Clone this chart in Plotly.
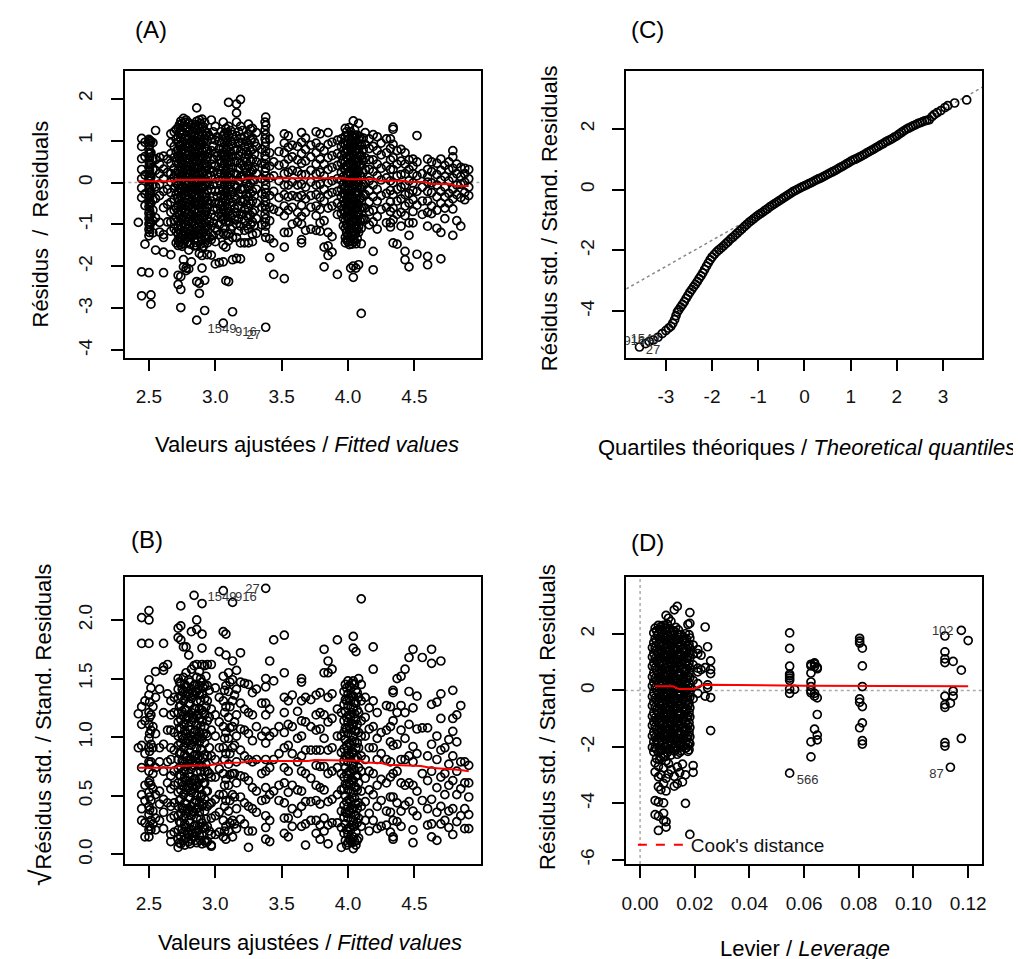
import plotly.graph_objects as go

# ---------------- DATA ----------------
# (A) residuals vs fitted values: (fitted value, [residuals at that fitted value])
a_columns = [
 (2.42, [-0.95]),
 (2.445, [1.05, 0.86, 0.57, 0.31, 0.09, -0.13, -0.36, -2.13, -2.7]),
 (2.47, [0.96, 0.62, 0.18, -0.27, -0.55, -1.47]),
 (2.50, [1.03, 0.94, 0.79, 0.68, 0.51, 0.37, 0.24, 0.09, -0.05, -0.17, -0.31, -0.46, -0.58, -0.73, -0.86, -0.99, -1.12, -1.27, -2.15]),
 (2.505, [1.0, 0.88, 0.71, 0.59, 0.45, 0.29, 0.16, 0.03, -0.11, -0.25, -0.37, -0.52, -0.67, -0.79, -0.94, -1.06, -1.19]),
 (2.515, [0.98, 0.71, 0.44, 0.13, -0.21, -0.49, -0.77, -0.96, -2.68, -2.9]),
 (2.53, [0.95, 0.58, 0.31, -0.06, -0.41, -0.66, -0.91, -1.2]),
 (2.55, [1.24, 0.55, 0.29, -0.1, -0.38, -0.84, -1.61]),
 (2.58, [0.6, 0.44, 0.21, -0.04, -0.31, -0.95, -1.18]),
 (2.61, [0.63, 0.32, 0.09, -0.21, -0.6, -1.24, -1.31, -1.66, -2.15]),
 (2.64, [0.56, 0.24, -0.16, -0.52, -0.94]),
 (2.665, [1.16, 0.95, 0.69, 0.46, 0.21, 0.01, -0.24, -0.47, -0.71, -0.94, -1.16, -1.72]),
 (2.69, [1.21, 0.86, 0.6, 0.34, 0.11, -0.13, -0.39, -0.66, -0.9, -1.1]),
 (2.705, [1.26, 1.03, 0.74, 0.5, 0.21, -0.02, -0.28, -0.61, -0.83, -1.17, -1.44]),
 (2.72, [1.31, 1.09, 0.96, 0.79, 0.63, 0.44, 0.29, 0.11, -0.06, -0.21, -0.37, -0.56, -0.71, -0.91, -1.04, -1.23, -1.37, -1.5, -2.21, -2.43]),
 (2.73, [1.38, 1.17, 0.88, 0.57, 0.21, -0.13, -0.44, -0.79, -1.13, -1.43]),
 (2.74, [1.46, 1.24, 1.06, 0.87, 0.71, 0.51, 0.36, 0.17, 0.03, -0.16, -0.31, -0.51, -0.67, -0.86, -1.01, -1.21, -1.34, -1.48, -2.24, -2.55, -2.98]),
 (2.75, [1.41, 1.14, 0.78, 0.47, 0.13, -0.21, -0.55, -0.89, -1.25, -1.52]),
 (2.76, [1.53, 1.34, 1.16, 0.96, 0.79, 0.59, 0.43, 0.24, 0.09, -0.11, -0.27, -0.46, -0.61, -0.81, -0.97, -1.16, -1.29, -1.46, -1.84, -2.01]),
 (2.77, [1.44, 1.04, 0.69, 0.33, -0.02, -0.37, -0.71, -1.07, -1.39]),
 (2.78, [1.49, 1.31, 1.11, 0.94, 0.74, 0.58, 0.39, 0.23, 0.04, -0.13, -0.29, -0.48, -0.64, -0.83, -0.99, -1.19, -1.33, -2.04, -2.1]),
 (2.79, [1.33, 1.02, 0.66, 0.31, -0.06, -0.4, -0.75, -1.1, -1.42]),
 (2.80, [1.42, 1.21, 1.04, 0.84, 0.68, 0.47, 0.31, 0.12, -0.03, -0.23, -0.39, -0.58, -0.74, -0.93, -1.09, -1.29, -1.61, -2.06]),
 (2.81, [1.27, 0.92, 0.55, 0.2, -0.17, -0.52, -0.87, -1.22, -1.47]),
 (2.82, [1.36, 1.14, 0.98, 0.77, 0.61, 0.41, 0.26, 0.06, -0.11, -0.27, -0.46, -0.62, -0.81, -0.96, -1.16, -1.3, -1.89]),
 (2.83, [1.22, 0.86, 0.49, 0.13, -0.21, -0.57, -0.92, -1.26]),
 (2.84, [1.29, 1.13, 0.91, 0.74, 0.54, 0.38, 0.19, 0.03, -0.16, -0.32, -0.51, -0.67, -0.86, -1.02, -1.21, -1.36, -1.51]),
 (2.85, [1.38, 1.0, 0.62, 0.24, -0.1, -0.46, -0.82, -1.17, -1.43]),
 (2.86, [1.78, 1.46, 1.24, 1.06, 0.85, 0.69, 0.49, 0.33, 0.14, -0.03, -0.19, -0.38, -0.54, -0.73, -0.89, -1.09, -1.24, -1.51, -2.36, -3.28]),
 (2.87, [1.35, 0.97, 0.6, 0.25, -0.11, -0.45, -0.81, -1.14, -1.39]),
 (2.88, [1.49, 1.29, 1.11, 0.89, 0.73, 0.53, 0.37, 0.17, 0.01, -0.18, -0.34, -0.53, -0.69, -0.89, -1.04, -1.23, -1.69, -2.4, -2.64]),
 (2.89, [1.41, 1.03, 0.64, 0.29, -0.07, -0.42, -0.77, -1.12, -1.47]),
 (2.90, [1.51, 1.31, 1.13, 0.92, 0.76, 0.56, 0.4, 0.2, 0.05, -0.15, -0.3, -0.5, -0.65, -0.85, -1.01, -1.21, -1.37, -1.56, -1.74, -2.04]),
 (2.91, [1.33, 0.97, 0.6, 0.24, -0.11, -0.46, -0.82, -1.17, -1.52]),
 (2.92, [1.43, 1.21, 1.03, 0.82, 0.65, 0.45, 0.29, 0.09, -0.07, -0.27, -0.42, -0.61, -0.77, -0.96, -1.11, -1.31, -1.44, -2.33, -3.05]),
 (2.93, [1.12, 0.74, 0.36, 0.01, -0.35, -0.71, -1.06, -1.35]),
 (2.94, [1.19, 1.01, 0.79, 0.61, 0.39, 0.21, -0.01, -0.19, -0.43, -0.61, -0.86, -1.04, -1.26, -1.44, -1.72]),
 (2.955, [1.11, 0.69, 0.31, -0.06, -0.52, -0.94, -1.31]),
 (2.97, [1.49, 1.04, 0.76, 0.44, 0.16, -0.16, -0.44, -0.76, -1.04, -1.36, -1.73]),
 (2.985, [1.21, 0.86, 0.56, 0.26, -0.04, -0.34, -0.66, -0.96, -1.26]),
 (3.00, [1.34, 1.01, 0.71, 0.41, 0.09, -0.21, -0.49, -0.81, -1.09, -1.41, -1.94]),
 (3.015, [1.09, 0.63, 0.21, -0.34, -0.62, -1.15]),
 (3.03, [0.99, 0.81, 0.54, 0.31, 0.04, -0.19, -0.49, -0.74, -1.01, -1.24, -1.91]),
 (3.045, [1.21, 0.95, 0.69, 0.46, 0.21, -0.04, -0.29, -0.54, -0.81]),
 (3.06, [1.44, 1.11, 0.84, 0.61, 0.34, 0.11, -0.16, -0.39, -0.66, -0.89, -1.21, -1.49, -1.89, -3.35]),
 (3.07, [1.17, 0.94, 0.71, 0.46, 0.22, -0.04, -0.31, -0.57, -0.82, -1.07]),
 (3.08, [1.29, 1.06, 0.79, 0.56, 0.29, 0.06, -0.21, -0.44, -0.71, -0.94, -1.26, -1.54, -2.34]),
 (3.09, [1.19, 0.95, 0.67, 0.44, 0.18, -0.08, -0.33, -0.6, -0.83]),
 (3.10, [1.91, 1.34, 1.11, 0.84, 0.61, 0.34, 0.11, -0.16, -0.41, -0.69, -0.94, -1.23, -1.39, -2.36]),
 (3.115, [1.24, 0.98, 0.73, 0.49, 0.24, -0.03, -0.29, -0.55, -0.81, -1.11]),
 (3.13, [1.14, 0.91, 0.61, 0.36, 0.07, -0.21, -0.47, -0.76, -1.04, -1.31, -1.84, -3.08]),
 (3.145, [1.03, 0.76, 0.49, 0.22, -0.06, -0.34, -0.62, -0.89]),
 (3.16, [1.87, 1.66, 1.44, 1.11, 0.79, 0.51, 0.19, -0.11, -0.39, -0.71, -0.99, -1.31, -1.81]),
 (3.175, [1.21, 0.94, 0.64, 0.34, 0.04, -0.26, -0.56, -0.86, -1.16]),
 (3.19, [1.98, 1.34, 1.06, 0.74, 0.46, 0.14, -0.16, -0.44, -0.76, -1.04, -1.44, -1.82]),
 (3.205, [1.24, 0.96, 0.69, 0.41, 0.14, -0.16, -0.46, -0.76]),
 (3.22, [1.09, 0.86, 0.59, 0.36, 0.09, -0.14, -0.41, -0.64, -0.91, -1.14, -1.44]),
 (3.235, [0.98, 0.74, 0.49, 0.24, -0.02, -0.27, -0.52, -0.79, -1.03]),
 (3.25, [1.39, 1.16, 0.89, 0.66, 0.39, 0.16, -0.11, -0.34, -0.61, -0.84, -1.11, -1.44]),
 (3.265, [1.27, 1.02, 0.76, 0.51, 0.26, -0.01, -0.26, -0.51, -0.78, -1.01]),
 (3.28, [1.29, 1.06, 0.79, 0.56, 0.29, 0.06, -0.21, -0.44, -0.71, -0.94, -1.24, -1.41]),
 (3.295, [0.96, 0.68, 0.36, 0.06, -0.31, -0.66, -1.02]),
 (3.31, [1.19, 0.86, 0.49, 0.21, -0.16, -0.49, -0.86, -1.21]),
 (3.35, [0.79, 0.46, 0.09, -0.26, -0.59, -1.01]),
 (3.375, [1.44, 1.25, 1.04, 0.86, 0.64, 0.44, 0.26, 0.05, -0.15, -0.35, -0.55, -0.76, -0.95, -1.18]),
 (3.38, [1.56, 1.36, 1.14, 0.96, 0.74, 0.56, 0.34, 0.16, -0.06, -0.24, -0.46, -0.64, -0.86, -1.04, -1.31, -3.45]),
 (3.41, [1.04, 0.71, 0.39, 0.11, -0.31, -0.59, -0.91, -1.34, -1.79]),
 (3.44, [0.49, 0.16, -0.21, -0.64, -1.44, -2.19]),
 (3.48, [0.74, 0.41, 0.04, -0.36, -0.69]),
 (3.52, [1.16, 0.94, 0.71, 0.44, 0.21, -0.06, -0.29, -0.56, -0.79, -1.19, -1.54, -2.29]),
 (3.55, [1.11, 0.84, 0.56, 0.24, -0.06, -0.34, -0.66, -1.19]),
 (3.58, [0.89, 0.61, 0.29, 0.01, -0.31, -0.59, -0.99]),
 (3.62, [0.86, 0.54, 0.26, -0.06, -0.34, -0.71, -0.94]),
 (3.65, [1.19, 0.96, 0.69, 0.46, 0.19, -0.04, -0.31, -0.54, -0.81, -0.99, -1.36, -1.44]),
 (3.68, [1.06, 0.79, 0.51, 0.19, -0.11, -0.39, -0.71, -1.14]),
 (3.72, [0.89, 0.61, 0.29, 0.01, -0.31, -0.59, -1.11]),
 (3.76, [1.21, 0.94, 0.71, 0.44, 0.21, -0.06, -0.29, -0.56, -0.79, -1.14]),
 (3.79, [1.16, 0.84, 0.56, 0.24, -0.04, -0.36, -0.64, -0.96, -1.16]),
 (3.82, [0.76, 0.44, 0.16, -0.16, -0.44, -0.91, -1.54, -2.01]),
 (3.85, [1.19, 0.91, 0.59, 0.31, -0.01, -0.29, -0.61, -1.19, -1.51, -1.74]),
 (3.88, [0.96, 0.64, 0.36, 0.04, -0.24, -0.56, -1.29, -1.66]),
 (3.92, [1.01, 0.69, 0.41, 0.09, -0.21, -0.49, -0.76, -2.19]),
 (3.95, [1.04, 0.86, 0.64, 0.46, 0.24, 0.06, -0.16, -0.34, -0.56, -0.74]),
 (3.965, [0.94, 0.76, 0.53, 0.35, 0.14, -0.04, -0.26, -0.44, -0.66, -0.85, -1.03]),
 (3.98, [1.29, 1.11, 0.89, 0.71, 0.49, 0.31, 0.09, -0.11, -0.29, -0.51, -0.69, -0.91, -1.09, -1.31, -1.44]),
 (3.99, [1.21, 0.99, 0.81, 0.6, 0.41, 0.2, 0.01, -0.21, -0.39, -0.61, -0.79, -1.01, -1.19, -1.37]),
 (4.00, [1.11, 0.91, 0.75, 0.55, 0.39, 0.19, 0.03, -0.17, -0.33, -0.53, -0.69, -0.89, -1.05, -1.25, -1.41]),
 (4.01, [1.31, 1.04, 0.85, 0.64, 0.46, 0.25, 0.07, -0.12, -0.3, -0.48, -0.66, -0.84, -1.1, -1.3, -1.48]),
 (4.02, [1.21, 0.99, 0.81, 0.59, 0.41, 0.19, 0.01, -0.21, -0.39, -0.61, -0.79, -1.01, -1.19, -1.41, -2.04]),
 (4.03, [1.12, 0.93, 0.71, 0.52, 0.31, 0.11, -0.08, -0.3, -0.51, -0.7, -0.91, -1.1, -1.28, -1.47]),
 (4.04, [1.47, 1.06, 0.84, 0.66, 0.44, 0.26, 0.04, -0.14, -0.36, -0.54, -0.76, -0.94, -1.16, -1.34, -1.99, -2.26]),
 (4.05, [1.26, 1.13, 0.94, 0.74, 0.56, 0.35, 0.14, -0.05, -0.26, -0.45, -0.64, -0.86, -1.06, -1.25, -1.4]),
 (4.06, [0.99, 0.81, 0.59, 0.41, 0.19, 0.01, -0.21, -0.39, -0.61, -0.79, -1.01, -1.19, -1.46, -2.04]),
 (4.07, [1.13, 0.91, 0.71, 0.49, 0.3, 0.09, -0.1, -0.31, -0.5, -0.71, -0.9, -1.11, -1.34]),
 (4.08, [1.41, 1.04, 0.79, 0.51, 0.27, -0.01, -0.25, -0.53, -0.77, -1.06, -1.19, -1.96]),
 (4.09, [1.09, 0.87, 0.63, 0.39, 0.15, -0.13, -0.38, -0.64, -0.91]),
 (4.10, [0.91, 0.64, 0.41, 0.14, -0.09, -0.36, -0.59, -0.86, -1.09, -1.46, -3.12]),
 (4.115, [1.06, 0.79, 0.52, 0.24, -0.04, -0.31, -0.59, -0.86]),
 (4.13, [1.19, 0.91, 0.59, 0.31, -0.01, -0.29, -0.61, -0.89]),
 (4.16, [1.04, 0.81, 0.54, 0.31, 0.04, -0.19, -0.46, -0.69, -1.01]),
 (4.19, [1.14, 0.86, 0.54, 0.26, -0.06, -0.34, -0.66, -0.94, -1.64, -2.08]),
 (4.22, [1.09, 0.76, 0.44, 0.16, -0.16, -0.44, -0.81, -1.11]),
 (4.25, [0.94, 0.66, 0.34, 0.06, -0.31, -0.64]),
 (4.29, [1.04, 0.71, 0.39, 0.11, -0.26, -0.59, -0.96]),
 (4.32, [1.04, 0.81, 0.54, 0.31, 0.04, -0.19, -0.46, -0.69, -0.96, -1.06]),
 (4.34, [1.32, 1.27, 0.91, 0.59, 0.31, -0.01, -0.29, -0.61, -0.89, -1.44]),
 (4.37, [0.76, 0.44, 0.16, -0.16, -0.44, -0.76, -1.47]),
 (4.40, [0.79, 0.51, 0.19, -0.11, -0.39, -0.71, -1.04]),
 (4.43, [0.71, 0.44, 0.21, -0.06, -0.29, -0.56, -0.79, -1.64, -1.84]),
 (4.46, [0.54, 0.31, 0.04, -0.26, -0.49, -0.96, -1.26, -2.01]),
 (4.49, [0.56, 0.39, 0.21, -0.01, -0.19, -0.41, -0.69, -0.96]),
 (4.52, [1.12, 0.49, 0.16, -0.21, -0.54, -1.71]),
 (4.56, [0.21, -0.11, -0.44, -0.76]),
 (4.60, [0.56, 0.31, 0.14, 0.01, -0.21, -0.44, -0.71, -1.04, -1.76, -1.96]),
 (4.63, [0.49, 0.26, -0.01, -0.24, -0.56, -0.74]),
 (4.67, [0.46, 0.19, -0.06, -0.34, -0.66, -1.09]),
 (4.70, [0.56, 0.29, 0.06, -0.21, -0.49, -1.19, -1.82]),
 (4.73, [0.41, 0.14, -0.11, -0.34, -0.61, -0.86]),
 (4.76, [0.49, 0.31, 0.04, -0.26, -0.49]),
 (4.79, [0.76, 0.61, 0.34, 0.11, -0.16, -0.39, -0.63, -1.26]),
 (4.82, [0.44, 0.21, -0.06, -0.29, -0.91]),
 (4.85, [0.36, 0.14, -0.04, -0.36, -1.04]),
 (4.88, [0.34, 0.21, 0.01, -0.24, -0.41]),
 (4.91, [0.31, 0.09, -0.11, -0.31]),
]
a_smooth_x = [2.42, 2.69, 2.70, 3.20, 3.24, 3.97, 4.00, 4.21, 4.23, 4.42, 4.46, 4.58, 4.62, 4.78, 4.81, 4.91]
a_smooth_y = [0.03, 0.03, 0.06, 0.07, 0.10, 0.10, 0.08, 0.08, 0.04, 0.04, 0.01, 0.01, -0.03, -0.04, -0.08, -0.08]
a_labels = ["1549", "916", "27"]
a_label_x = [3.05, 3.23, 3.29]
a_label_y = [-3.51, -3.58, -3.66]

# (C) normal Q-Q: theoretical quantiles and standardized residuals
c_theoretical = [-3.57, -3.44, -3.36, -3.27, -3.17, -3.08, -3.0, -2.94, -2.89, -2.85, -2.81, -2.78, -2.75,
    -2.72, -2.68, -2.64, -2.6, -2.56, -2.52, -2.48, -2.44, -2.4, -2.36, -2.32, -2.28, -2.24, -2.2, -2.16,
    -2.12, -2.08, -2.04, -2.0, -1.95, -1.9, -1.85, -1.8, -1.75, -1.7, -1.65, -1.6, -1.55, -1.5, -1.45,
    -1.4, -1.35, -1.3, -1.25, -1.2, -1.15, -1.1, -1.05, -1.0, -0.95, -0.9, -0.85, -0.8, -0.75, -0.7,
    -0.65, -0.6, -0.55, -0.5, -0.45, -0.4, -0.35, -0.3, -0.25, -0.2, -0.15, -0.1, -0.05, 0.0, 0.05, 0.1,
    0.15, 0.2, 0.25, 0.3, 0.35, 0.4, 0.45, 0.5, 0.55, 0.6, 0.65, 0.7, 0.75, 0.8, 0.85, 0.9, 0.95, 1.0,
    1.05, 1.1, 1.15, 1.2, 1.25, 1.3, 1.35, 1.4, 1.45, 1.5, 1.55, 1.6, 1.65, 1.7, 1.75, 1.8, 1.85, 1.9,
    1.95, 2.0, 2.05, 2.1, 2.15, 2.2, 2.25, 2.3, 2.35, 2.4, 2.45, 2.5, 2.55, 2.6, 2.65, 2.7, 2.76, 2.81,
    2.87, 2.95, 3.04, 3.1, 3.25, 3.51]
c_std_resid = [-5.18, -5.07, -5.0, -4.95, -4.86, -4.74, -4.64, -4.56, -4.5, -4.4, -4.28, -4.15, -4.03,
    -3.96, -3.87, -3.78, -3.69, -3.58, -3.48, -3.38, -3.29, -3.2, -3.12, -3.03, -2.93, -2.84, -2.74, -2.63,
    -2.52, -2.41, -2.31, -2.22, -2.13, -2.05, -1.98, -1.92, -1.85, -1.78, -1.71, -1.63, -1.57, -1.5, -1.43,
    -1.36, -1.29, -1.22, -1.15, -1.08, -1.02, -0.96, -0.9, -0.84, -0.79, -0.74, -0.68, -0.63, -0.57, -0.52,
    -0.47, -0.42, -0.37, -0.32, -0.27, -0.22, -0.17, -0.12, -0.07, -0.03, 0.01, 0.05, 0.09, 0.12, 0.16, 0.2,
    0.23, 0.27, 0.31, 0.35, 0.38, 0.42, 0.46, 0.5, 0.54, 0.58, 0.62, 0.66, 0.71, 0.75, 0.79, 0.84, 0.88, 0.93,
    0.97, 1.0, 1.04, 1.08, 1.12, 1.16, 1.21, 1.25, 1.29, 1.33, 1.38, 1.42, 1.47, 1.51, 1.56, 1.6, 1.64, 1.68,
    1.73, 1.77, 1.83, 1.88, 1.93, 1.98, 2.02, 2.06, 2.1, 2.13, 2.17, 2.2, 2.23, 2.26, 2.28, 2.3, 2.4, 2.47,
    2.53, 2.6, 2.7, 2.76, 2.85, 2.95]
c_line_x = [-3.86, 3.85]
c_line_y = [-3.27, 3.37]
c_labels = ["916", "1549", "27"]
c_label_x = [-3.68, -3.45, -3.28]
c_label_y = [-5.0, -4.93, -5.3]

# (B) scale-location: (fitted value, [sqrt(|standardized residuals|)])
b_columns = [
 (2.42, [1.2, 0.91]),
 (2.445, [2.02, 1.8, 1.26, 1.11, 0.93, 0.74, 0.51, 0.39, 0.29]),
 (2.47, [1.31, 1.14, 0.86, 0.59, 0.46, 0.27, 0.15]),
 (2.50, [2.08, 2.0, 1.8, 1.49, 1.36, 1.21, 1.11, 0.99, 0.91, 0.79, 0.71, 0.61, 0.53, 0.41, 0.34, 0.21, 0.15]),
 (2.505, [1.3, 1.17, 1.03, 0.88, 0.77, 0.63, 0.49, 0.38, 0.24]),
 (2.515, [1.42, 1.19, 1.06, 0.94, 0.79, 0.59, 0.46, 0.29, 0.21]),
 (2.53, [1.26, 1.09, 0.91, 0.69, 0.56, 0.37, 0.26]),
 (2.55, [1.56, 1.34, 1.03, 0.74, 0.51, 0.31, 0.21]),
 (2.58, [1.41, 0.91, 0.79, 0.54, 0.43, 0.29]),
 (2.61, [1.8, 1.6, 1.57, 1.21, 0.94, 0.71, 0.47, 0.36, 0.22]),
 (2.64, [1.62, 1.37, 1.06, 0.79, 0.61, 0.44]),
 (2.665, [1.31, 1.19, 1.06, 0.91, 0.81, 0.67, 0.56, 0.41, 0.31, 0.17, 0.11]),
 (2.69, [1.34, 1.21, 1.04, 0.89, 0.71, 0.59, 0.44, 0.33, 0.19]),
 (2.72, [1.93, 1.85, 1.5, 1.41, 1.33, 1.21, 1.13, 1.01, 0.93, 0.81, 0.73, 0.61, 0.53, 0.41, 0.33, 0.21, 0.13, 0.06]),
 (2.73, [1.47, 1.26, 1.08, 0.86, 0.68, 0.46, 0.28, 0.1]),
 (2.74, [2.12, 1.95, 1.83, 1.46, 1.35, 1.27, 1.15, 1.07, 0.95, 0.87, 0.75, 0.67, 0.55, 0.47, 0.35, 0.27, 0.15, 0.09]),
 (2.75, [1.41, 1.22, 1.01, 0.8, 0.62, 0.4, 0.22]),
 (2.76, [1.77, 1.51, 1.39, 1.31, 1.19, 1.11, 0.99, 0.91, 0.79, 0.71, 0.59, 0.51, 0.39, 0.31, 0.19, 0.12]),
 (2.77, [1.45, 1.24, 1.06, 0.85, 0.66, 0.44, 0.26, 0.08]),
 (2.78, [1.77, 1.55, 1.43, 1.35, 1.23, 1.15, 1.03, 0.95, 0.83, 0.75, 0.63, 0.55, 0.43, 0.35, 0.23, 0.14]),
 (2.79, [1.39, 1.18, 0.99, 0.8, 0.59, 0.39, 0.19]),
 (2.80, [1.7, 1.49, 1.37, 1.29, 1.17, 1.09, 0.97, 0.89, 0.77, 0.69, 0.57, 0.49, 0.37, 0.29, 0.17, 0.11]),
 (2.81, [1.47, 1.28, 1.06, 0.87, 0.66, 0.48, 0.27, 0.09]),
 (2.82, [1.9, 1.58, 1.41, 1.33, 1.21, 1.13, 1.01, 0.93, 0.81, 0.73, 0.61, 0.53, 0.41, 0.33, 0.21, 0.13]),
 (2.83, [1.38, 1.17, 0.98, 0.79, 0.58, 0.37, 0.18]),
 (2.84, [2.21, 1.61, 1.44, 1.36, 1.24, 1.16, 1.04, 0.96, 0.84, 0.76, 0.64, 0.56, 0.44, 0.36, 0.24, 0.15]),
 (2.85, [1.45, 1.24, 1.06, 0.85, 0.64, 0.46, 0.25, 0.12]),
 (2.86, [2.0, 1.92, 1.62, 1.51, 1.39, 1.31, 1.19, 1.11, 0.99, 0.91, 0.79, 0.71, 0.59, 0.51, 0.39, 0.31, 0.19, 0.1]),
 (2.87, [1.41, 1.2, 1.01, 0.82, 0.61, 0.4, 0.21]),
 (2.88, [1.56, 1.44, 1.36, 1.24, 1.16, 1.04, 0.96, 0.84, 0.76, 0.64, 0.56, 0.44, 0.36, 0.24, 0.16]),
 (2.89, [1.5, 1.31, 1.09, 0.9, 0.71, 0.49, 0.3, 0.12]),
 (2.90, [2.14, 1.88, 1.76, 1.62, 1.47, 1.37, 1.23, 1.13, 0.99, 0.89, 0.75, 0.65, 0.51, 0.41, 0.27, 0.17, 0.09]),
 (2.91, [1.42, 1.21, 1.03, 0.82, 0.61, 0.43, 0.22]),
 (2.92, [1.61, 1.44, 1.33, 1.19, 1.09, 0.95, 0.85, 0.71, 0.61, 0.47, 0.37, 0.23, 0.12]),
 (2.93, [1.52, 1.26, 1.03, 0.77, 0.54, 0.3, 0.1]),
 (2.94, [1.62, 1.44, 1.31, 1.14, 1.01, 0.84, 0.71, 0.54, 0.41, 0.24, 0.11]),
 (2.955, [1.4, 1.17, 0.91, 0.69, 0.43, 0.2]),
 (2.97, [1.62, 1.24, 1.06, 0.84, 0.66, 0.44, 0.31, 0.17, 0.08, 0.07]),
 (3.00, [1.42, 1.19, 1.01, 0.81, 0.66, 0.47, 0.33, 0.17]),
 (3.03, [1.73, 1.34, 1.13, 0.91, 0.73, 0.51, 0.36, 0.19]),
 (3.06, [2.25, 1.9, 1.52, 1.31, 1.09, 0.91, 0.69, 0.51, 0.29, 0.15]),
 (3.07, [1.4, 1.21, 0.99, 0.81, 0.59, 0.41, 0.2]),
 (3.08, [1.88, 1.7, 1.44, 1.26, 1.04, 0.86, 0.64, 0.46, 0.24, 0.13]),
 (3.10, [1.55, 1.39, 1.17, 0.99, 0.77, 0.59, 0.37, 0.2]),
 (3.11, [1.47, 1.26, 1.08, 0.86, 0.68, 0.46, 0.27]),
 (3.13, [2.15, 1.65, 1.49, 1.31, 1.09, 0.91, 0.69, 0.51, 0.29, 0.15]),
 (3.145, [1.36, 1.13, 0.93, 0.69, 0.49, 0.26]),
 (3.16, [1.57, 1.41, 1.19, 1.01, 0.79, 0.61, 0.39, 0.22]),
 (3.19, [1.72, 1.47, 1.29, 1.07, 0.89, 0.67, 0.49, 0.3]),
 (3.22, [1.46, 1.24, 1.06, 0.84, 0.66, 0.44, 0.26]),
 (3.25, [1.45, 1.21, 1.03, 0.81, 0.63, 0.41, 0.2, 0.06]),
 (3.28, [1.38, 1.19, 0.97, 0.79, 0.57, 0.39, 0.2]),
 (3.31, [1.41, 1.09, 0.81, 0.54, 0.36]),
 (3.35, [1.29, 1.01, 0.69, 0.46]),
 (3.38, [2.27, 1.5, 1.43, 1.29, 1.19, 1.05, 0.95, 0.81, 0.71, 0.57, 0.47, 0.33, 0.23, 0.13]),
 (3.41, [1.65, 1.24, 1.01, 0.74, 0.51, 0.29, 0.11]),
 (3.44, [1.83, 1.48, 1.04, 0.81, 0.54]),
 (3.48, [1.09, 0.86, 0.59, 0.46]),
 (3.52, [1.87, 1.55, 1.34, 1.21, 1.04, 0.91, 0.74, 0.61, 0.44, 0.31, 0.18]),
 (3.55, [1.31, 1.11, 0.93, 0.71, 0.53, 0.31, 0.15]),
 (3.58, [1.36, 1.09, 0.86, 0.59, 0.39, 0.24]),
 (3.62, [1.22, 0.99, 0.79, 0.55, 0.35]),
 (3.65, [1.5, 1.47, 1.31, 1.14, 1.01, 0.84, 0.71, 0.54, 0.41, 0.24]),
 (3.68, [1.34, 1.13, 0.89, 0.69, 0.45, 0.26, 0.08]),
 (3.72, [1.32, 1.09, 0.89, 0.65, 0.45, 0.29]),
 (3.76, [1.36, 1.19, 1.06, 0.89, 0.76, 0.59, 0.46, 0.29, 0.18]),
 (3.79, [1.38, 1.21, 1.07, 0.89, 0.75, 0.57, 0.43, 0.25, 0.13]),
 (3.82, [1.75, 1.55, 1.19, 0.99, 0.75, 0.55, 0.31, 0.2]),
 (3.85, [1.65, 1.55, 1.34, 1.13, 0.89, 0.69, 0.45, 0.25, 0.09]),
 (3.88, [1.58, 1.37, 1.16, 0.91, 0.71, 0.47, 0.27]),
 (3.92, [1.83, 1.24, 1.01, 0.74, 0.51, 0.27]),
 (3.95, [1.21, 1.01, 0.87, 0.69, 0.55, 0.37, 0.23, 0.06]),
 (3.97, [1.39, 1.28, 1.14, 1.04, 0.9, 0.8, 0.66, 0.56, 0.42, 0.32, 0.18]),
 (3.98, [1.45, 1.32, 1.22, 1.08, 0.98, 0.84, 0.74, 0.6, 0.5, 0.36, 0.26, 0.12]),
 (3.99, [1.42, 1.31, 1.17, 1.07, 0.93, 0.83, 0.69, 0.59, 0.45, 0.35, 0.21, 0.08]),
 (4.00, [1.48, 1.37, 1.27, 1.13, 1.03, 0.89, 0.79, 0.65, 0.55, 0.41, 0.31, 0.17, 0.1]),
 (4.01, [1.44, 1.33, 1.19, 1.09, 0.95, 0.85, 0.71, 0.61, 0.47, 0.37, 0.23, 0.13]),
 (4.02, [1.42, 1.31, 1.17, 1.07, 0.93, 0.83, 0.69, 0.59, 0.45, 0.35, 0.21, 0.12]),
 (4.03, [1.46, 1.35, 1.21, 1.11, 0.97, 0.87, 0.73, 0.63, 0.49, 0.39, 0.25, 0.1]),
 (4.04, [1.86, 1.76, 1.48, 1.35, 1.25, 1.11, 1.01, 0.87, 0.77, 0.63, 0.53, 0.39, 0.29, 0.15, 0.05]),
 (4.05, [1.45, 1.3, 1.2, 1.06, 0.96, 0.82, 0.72, 0.58, 0.48, 0.34, 0.24, 0.11]),
 (4.06, [1.73, 1.4, 1.29, 1.15, 1.05, 0.91, 0.81, 0.67, 0.57, 0.43, 0.33, 0.19, 0.08]),
 (4.07, [1.38, 1.23, 1.11, 0.95, 0.83, 0.67, 0.55, 0.39, 0.27, 0.12]),
 (4.08, [1.5, 1.34, 1.21, 1.04, 0.91, 0.74, 0.61, 0.44, 0.31, 0.14]),
 (4.10, [2.18, 1.45, 1.31, 1.14, 1.01, 0.84, 0.71, 0.54, 0.41, 0.24]),
 (4.13, [1.34, 1.17, 1.01, 0.81, 0.65, 0.45, 0.29]),
 (4.16, [1.25, 1.07, 0.91, 0.71, 0.55, 0.35, 0.2]),
 (4.19, [1.77, 1.58, 1.31, 1.09, 0.91, 0.69, 0.51, 0.29]),
 (4.22, [1.21, 0.99, 0.81, 0.59, 0.41, 0.22]),
 (4.25, [1.04, 0.86, 0.64, 0.46, 0.24]),
 (4.29, [1.27, 1.06, 0.81, 0.61, 0.37, 0.25]),
 (4.32, [1.26, 1.09, 0.96, 0.79, 0.66, 0.49, 0.36, 0.19]),
 (4.34, [1.4, 1.38, 1.14, 0.93, 0.69, 0.49, 0.29, 0.15, 0.13]),
 (4.37, [1.5, 1.21, 0.94, 0.71, 0.44, 0.28]),
 (4.40, [1.52, 1.27, 1.06, 0.81, 0.61, 0.37, 0.24]),
 (4.43, [1.58, 1.21, 0.99, 0.81, 0.59, 0.42]),
 (4.46, [1.68, 1.39, 1.11, 0.84, 0.61, 0.45]),
 (4.49, [1.75, 1.25, 0.92, 0.79, 0.59, 0.37, 0.21, 0.1]),
 (4.52, [1.35, 1.07, 0.86, 0.54, 0.33]),
 (4.56, [1.68, 1.08, 0.69, 0.46]),
 (4.60, [1.08, 0.84, 0.63, 0.39, 0.25]),
 (4.63, [1.75, 1.63, 1.28, 0.94, 0.71, 0.47, 0.26, 0.15]),
 (4.67, [1.3, 1.01, 0.81, 0.57, 0.36, 0.12]),
 (4.70, [1.65, 1.37, 1.16, 0.89, 0.66, 0.41, 0.26]),
 (4.73, [0.91, 0.69, 0.51, 0.29]),
 (4.76, [0.98, 0.77, 0.59, 0.37, 0.23]),
 (4.79, [1.4, 1.16, 1.05, 0.84, 0.63, 0.39, 0.17]),
 (4.82, [1.19, 0.96, 0.71, 0.51, 0.28]),
 (4.85, [1.27, 0.79, 0.56, 0.33]),
 (4.88, [0.79, 0.61, 0.39, 0.22]),
 (4.91, [0.76, 0.61, 0.49, 0.34, 0.22]),
]
b_smooth_x = [2.42, 2.70, 2.72, 2.95, 3.07, 3.20, 3.27, 3.70, 3.75, 3.85, 3.90, 4.10, 4.12, 4.25, 4.30, 4.55, 4.62, 4.75, 4.85, 4.91]
b_smooth_y = [0.74, 0.74, 0.755, 0.76, 0.78, 0.785, 0.797, 0.797, 0.805, 0.805, 0.80, 0.80, 0.785, 0.78, 0.765, 0.755, 0.74, 0.73, 0.72, 0.71]
b_labels = ["1549", "916", "27"]
b_label_x = [3.05, 3.23, 3.28]
b_label_y = [2.19, 2.19, 2.26]

# (D) residuals vs leverage: (leverage, [standardized residuals])
d_columns = [
 (0.0045, [1.52, 1.19, 0.86, 0.49, 0.16, -0.21, -0.54, -0.91, -1.24, -1.61, -2.01]),
 (0.0050, [2.04, 1.69, 1.32, 0.98, 0.62, 0.29, -0.08, -0.41, -0.79, -1.11, -1.48, -1.82, -2.17]),
 (0.0055, [2.21, 1.84, 1.51, 1.14, 0.81, 0.44, 0.11, -0.26, -0.59, -0.96, -1.29, -1.66, -2.04, -2.56, -2.89, -3.9, -4.4]),
 (0.0060, [2.12, 1.76, 1.43, 1.05, 0.73, 0.35, 0.03, -0.34, -0.68, -1.05, -1.37, -1.75, -2.08, -2.41]),
 (0.0067, [2.31, 1.99, 1.66, 1.29, 0.96, 0.59, 0.26, -0.11, -0.44, -0.81, -1.14, -1.51, -1.84, -2.21, -2.69, -3.06, -3.41, -3.95, -4.45, -4.96]),
 (0.0071, [2.17, 1.82, 1.46, 1.12, 0.76, 0.42, 0.06, -0.28, -0.64, -0.97, -1.34, -1.67, -2.05, -2.45]),
 (0.0076, [2.26, 1.89, 1.56, 1.19, 0.86, 0.49, 0.16, -0.21, -0.54, -0.91, -1.24, -1.61, -1.94, -2.36, -2.99, -3.51]),
 (0.0081, [2.08, 1.72, 1.39, 1.01, 0.69, 0.31, -0.01, -0.39, -0.71, -1.08, -1.41, -1.78, -2.11]),
 (0.0086, [2.31, 1.94, 1.61, 1.24, 0.91, 0.54, 0.21, -0.16, -0.49, -0.86, -1.19, -1.56, -1.89, -2.31, -2.74, -3.29, -3.98, -4.35, -4.6]),
 (0.0090, [2.22, 1.87, 1.51, 1.17, 0.81, 0.48, 0.11, -0.22, -0.59, -0.92, -1.29, -1.62, -1.98, -2.34]),
 (0.0095, [2.66, 2.19, 1.86, 1.49, 1.16, 0.79, 0.46, 0.09, -0.24, -0.61, -0.94, -1.31, -1.64, -2.01, -2.49, -3.11, -3.56, -4.65, -4.84]),
 (0.0100, [2.35, 1.97, 1.64, 1.27, 0.94, 0.57, 0.23, -0.13, -0.47, -0.83, -1.17, -1.53, -1.86, -2.2]),
 (0.0104, [2.56, 2.14, 1.81, 1.44, 1.11, 0.74, 0.41, 0.04, -0.29, -0.66, -0.99, -1.36, -1.69, -2.11, -2.59, -2.96]),
 (0.0109, [2.2, 1.78, 1.42, 1.08, 0.72, 0.38, 0.02, -0.32, -0.68, -1.01, -1.38, -1.71, -2.07]),
 (0.0113, [2.45, 1.96, 1.59, 1.26, 0.89, 0.56, 0.19, -0.14, -0.51, -0.84, -1.21, -1.54, -1.91, -2.29, -2.81]),
 (0.0119, [2.12, 1.77, 1.44, 1.07, 0.73, 0.37, 0.03, -0.33, -0.67, -1.03, -1.37, -1.73, -2.05]),
 (0.0125, [2.86, 2.11, 1.74, 1.41, 1.04, 0.71, 0.34, 0.01, -0.36, -0.69, -1.06, -1.39, -1.76, -2.14, -3.04, -3.39]),
 (0.0130, [2.24, 1.84, 1.47, 1.14, 0.77, 0.44, 0.07, -0.26, -0.63, -0.96, -1.33, -1.66, -2.02]),
 (0.0136, [2.98, 1.99, 1.66, 1.29, 0.96, 0.59, 0.26, -0.11, -0.44, -0.81, -1.14, -1.51, -1.84, -2.26, -2.71, -3.31]),
 (0.0140, [2.15, 1.8, 1.46, 1.1, 0.77, 0.4, 0.07, -0.3, -0.63, -1.0, -1.33, -1.7, -2.04]),
 (0.0145, [1.96, 1.59, 1.26, 0.89, 0.56, 0.19, -0.14, -0.51, -0.84, -1.21, -1.54, -1.91, -2.19, -2.91]),
 (0.0150, [1.98, 1.63, 1.26, 0.93, 0.56, 0.23, -0.14, -0.47, -0.84, -1.17, -1.54, -1.87, -2.14]),
 (0.0155, [1.79, 1.46, 1.09, 0.76, 0.39, 0.06, -0.31, -0.64, -1.01, -1.34, -1.71, -1.99, -2.61, -3.24]),
 (0.0160, [1.88, 1.52, 1.19, 0.82, 0.49, 0.12, -0.21, -0.58, -0.91, -1.28, -1.61, -1.96]),
 (0.0166, [2.01, 1.69, 1.36, 0.99, 0.66, 0.29, -0.04, -0.41, -0.74, -1.11, -1.44, -1.81, -2.04, -2.99, -4.0]),
 (0.0170, [1.83, 1.47, 1.14, 0.77, 0.44, 0.07, -0.26, -0.63, -0.96, -1.33, -1.66, -2.02]),
 (0.0175, [2.34, 1.56, 1.19, 0.86, 0.49, 0.16, -0.21, -0.54, -0.91, -1.24, -1.61, -1.94, -2.16]),
 (0.0179, [1.98, 1.64, 1.33, 0.97, 0.63, 0.26, -0.07, -0.44, -0.77, -1.14, -1.47, -1.84, -2.1]),
 (0.0182, [2.76, 2.38, 1.86, 1.49, 1.16, 0.79, 0.46, 0.09, -0.24, -0.61, -0.94, -1.31, -1.64, -1.89, -5.1]),
 (0.0194, [1.61, 1.29, 0.91, 0.36, -0.29, -2.66, -2.9]),
 (0.0211, [1.45, 1.31, 0.79, 0.66, 0.24, -0.1]),
 (0.0223, [1.25, 0.74]),
 (0.0238, [2.25, 0.81, -0.2]),
 (0.0247, [1.55, 0.2, 0.1]),
 (0.0258, [1.05, 0.74, 0.6, -0.25, -1.42]),
 (0.0547, [2.04, 1.49, 0.86, 0.58, 0.52, 0.44, 0.36, 0.05, -0.1, -2.93]),
 (0.0565, [0.04]),
 (0.0625, [0.93, 0.87, 0.62, 0.3, 0.14, 0.0, -0.08, -1.82, -2.35]),
 (0.0638, [0.98, 0.94, 0.85, -0.1, -0.2, -1.37]),
 (0.0648, [0.82, 0.77, -0.26, -0.85, -1.58, -1.75]),
 (0.0803, [1.85, 1.75, 1.68, -0.3, -0.42, -1.32]),
 (0.0813, [1.5, 0.87, 0.14, -0.57, -1.15, -1.78, -1.9]),
 (0.1115, [1.93, 1.37, 1.12, 0.99, -0.2, -0.5, -0.6, -1.85, -1.97]),
 (0.1135, [-0.45, -2.72]),
 (0.1145, [1.03, -0.02, -0.2]),
 (0.1175, [2.13, 0.72, -1.7]),
 (0.1200, [1.77]),
]
d_smooth_x = [0.0054, 0.0121, 0.0142, 0.0196, 0.0220, 0.0245, 0.060, 0.090, 0.1200]
d_smooth_y = [0.15, 0.15, 0.05, 0.05, 0.17, 0.20, 0.17, 0.16, 0.15]
d_labels = ["566", "87", "102"]
d_label_x = [0.0613, 0.1084, 0.1107]
d_label_y = [-3.21, -2.99, 2.07]

# ---------------- FIGURE ----------------
W, H = 1021, 959
SANS = "Liberation Sans, Arial, sans-serif"
TICK_FONT = dict(family=SANS, size=19, color="#111111")
TITLE_FONT = dict(family=SANS, size=22, color="#000000")
LABEL_FONT = dict(family=SANS, size=13, color="#333333")
MARK = dict(symbol="circle-open", size=8, color="black", line=dict(width=1.7))


def flatten(cols):
    xs, ys = [], []
    for xv, yl in cols:
        for yv in yl:
            xs.append(xv)
            ys.append(yv)
    return xs, ys


def tick_text(vals, fmt):
    return [(fmt % v) for v in vals]


fig = go.Figure()

# A
ax, ay = flatten(a_columns)
fig.add_trace(go.Scatter(x=[2.3, 5.01], y=[0, 0], mode="lines", xaxis="x", yaxis="y",
                         line=dict(color="#aaaaaa", width=1.5, dash="dot")))
fig.add_trace(go.Scatter(x=ax, y=ay, mode="markers", marker=MARK, xaxis="x", yaxis="y"))
fig.add_trace(go.Scatter(x=a_smooth_x, y=a_smooth_y, mode="lines", line=dict(color="red", width=2),
                         xaxis="x", yaxis="y"))
fig.add_trace(go.Scatter(x=a_label_x, y=a_label_y, mode="text", text=a_labels, textfont=LABEL_FONT,
                         xaxis="x", yaxis="y"))

# C
fig.add_trace(go.Scatter(x=c_line_x, y=c_line_y, mode="lines", xaxis="x2", yaxis="y2",
                         line=dict(color="#888888", width=1.5, dash="dot")))
fig.add_trace(go.Scatter(x=c_theoretical, y=c_std_resid, mode="markers", marker=MARK, xaxis="x2", yaxis="y2"))
fig.add_trace(go.Scatter(x=c_label_x, y=c_label_y, mode="text", text=c_labels, textfont=LABEL_FONT,
                         xaxis="x2", yaxis="y2"))

# B
bx, by = flatten(b_columns)
fig.add_trace(go.Scatter(x=bx, y=by, mode="markers", marker=MARK, xaxis="x3", yaxis="y3"))
fig.add_trace(go.Scatter(x=b_smooth_x, y=b_smooth_y, mode="lines", line=dict(color="red", width=2),
                         xaxis="x3", yaxis="y3"))
fig.add_trace(go.Scatter(x=b_label_x, y=b_label_y, mode="text", text=b_labels, textfont=LABEL_FONT,
                         xaxis="x3", yaxis="y3"))

# D
dx, dy = flatten(d_columns)
fig.add_trace(go.Scatter(x=[-0.01, 0.13], y=[0, 0], mode="lines", xaxis="x4", yaxis="y4",
                         line=dict(color="#aaaaaa", width=1.5, dash="dot")))
fig.add_trace(go.Scatter(x=[0, 0], y=[-7, 5], mode="lines", xaxis="x4", yaxis="y4",
                         line=dict(color="#aaaaaa", width=1.5, dash="dot")))
fig.add_trace(go.Scatter(x=dx, y=dy, mode="markers", marker=MARK, xaxis="x4", yaxis="y4"))
fig.add_trace(go.Scatter(x=d_smooth_x, y=d_smooth_y, mode="lines", line=dict(color="red", width=2),
                         xaxis="x4", yaxis="y4"))
fig.add_trace(go.Scatter(x=d_label_x, y=d_label_y, mode="text", text=d_labels, textfont=LABEL_FONT,
                         xaxis="x4", yaxis="y4"))
fig.add_trace(go.Scatter(x=[None], y=[None], mode="lines", name="Cook's distance", showlegend=True,
                         line=dict(color="red", width=2, dash="dash"), xaxis="x4", yaxis="y4"))

for tr in fig.data:
    if tr.name != "Cook's distance":
        tr.showlegend = False
    tr.hoverinfo = "skip"


def px_x(p):
    return p / W


def px_y(p):
    return 1 - p / H


common_x = dict(showline=True, mirror=True, linecolor="black", linewidth=1.7, ticks="outside",
                ticklen=12, tickwidth=1.6, tickcolor="black", showgrid=False, zeroline=False,
                tickfont=TICK_FONT, ticklabelstandoff=9)
common_y = dict(common_x, tickangle=-90, ticklabelstandoff=11)

xdomL = [px_x(113), px_x(473)]
xdomR = [px_x(619.3), px_x(978.7)]
ydomT = [px_y(350), px_y(63)]
ydomB = [px_y(857.3), px_y(570)]

fitted_ticks = [2.5, 3.0, 3.5, 4.0, 4.5]
a_yticks = [-4, -3, -2, -1, 0, 1, 2]
c_xticks = [-3, -2, -1, 0, 1, 2, 3]
c_yticks = [-4, -2, 0, 2]
b_yticks = [0, 0.5, 1.0, 1.5, 2.0]
d_xticks = [0, 0.02, 0.04, 0.06, 0.08, 0.10, 0.12]
d_yticks = [-6, -4, -2, 0, 2]

fig.update_layout(
    width=W, height=H, margin=dict(l=0, r=0, t=0, b=0), autosize=False,
    paper_bgcolor="white", plot_bgcolor="white",
    xaxis=dict(common_x, domain=xdomL, range=[2.3187, 5.0052], anchor="y",
               tickvals=fitted_ticks, ticktext=tick_text(fitted_ticks, "%.1f")),
    yaxis=dict(common_y, domain=ydomT, range=[-4.174, 2.66], anchor="x",
               tickvals=a_yticks, ticktext=tick_text(a_yticks, "%d")),
    xaxis2=dict(common_x, domain=xdomR, range=[-3.857, 3.844], anchor="y2",
                tickvals=c_xticks, ticktext=tick_text(c_xticks, "%d")),
    yaxis2=dict(common_y, domain=ydomT, range=[-5.53, 3.905], anchor="x2",
                tickvals=c_yticks, ticktext=tick_text(c_yticks, "%d")),
    xaxis3=dict(common_x, domain=xdomL, range=[2.3187, 5.0052], anchor="y3",
                tickvals=fitted_ticks, ticktext=tick_text(fitted_ticks, "%.1f")),
    yaxis3=dict(common_y, domain=ydomB, range=[-0.085, 2.363], anchor="x3",
                tickvals=b_yticks, ticktext=tick_text(b_yticks, "%.1f")),
    xaxis4=dict(common_x, domain=xdomR, range=[-0.00507, 0.1251], anchor="y4",
                tickvals=d_xticks, ticktext=tick_text(d_xticks, "%.2f")),
    yaxis4=dict(common_y, domain=ydomB, range=[-6.163, 4.007], anchor="x4",
                tickvals=d_yticks, ticktext=tick_text(d_yticks, "%d")),
    legend=dict(x=px_x(626), y=px_y(837.7), xanchor="left", yanchor="middle",
                bgcolor="rgba(0,0,0,0)", borderwidth=0, itemwidth=48,
                font=dict(family=SANS, size=19, color="#111111")),
)

ann = []


def add_text(text, x, y, angle=0, font=TITLE_FONT):
    ann.append(dict(text=text, x=px_x(x), y=px_y(y), xref="paper", yref="paper", showarrow=False,
                    xanchor="center", yanchor="middle", textangle=angle, font=font))


panel_font = dict(TITLE_FONT, size=24)
add_text("(A)", 139, 22, font=panel_font)
add_text("(C)", 641, 22, font=panel_font)
add_text("(B)", 135, 532, font=panel_font)
add_text("(D)", 641, 535, font=panel_font)

add_text("Valeurs ajustées / <i>Fitted values</i>", 297, 436.7)
add_text("Quartiles théoriques / <i>Theoretical quantiles</i>", 801.7, 440)
add_text("Valeurs ajustées / <i>Fitted values</i>", 300, 935)
add_text("Levier / <i>Leverage</i>", 800, 941.7)

add_text("Résidus  /  Residuals", 28, 216, angle=-90)
add_text("Résidus std. / Stand. Residuals", 541.7, 210, angle=-90)
add_text("<span style='font-size:30px'>√</span>Résidus std. / Stand. Residuals", 28, 718, angle=-90)
add_text("Résidus std. / Stand. Residuals", 540, 710, angle=-90)

fig.update_layout(annotations=ann)

fig.write_html("out.html")
